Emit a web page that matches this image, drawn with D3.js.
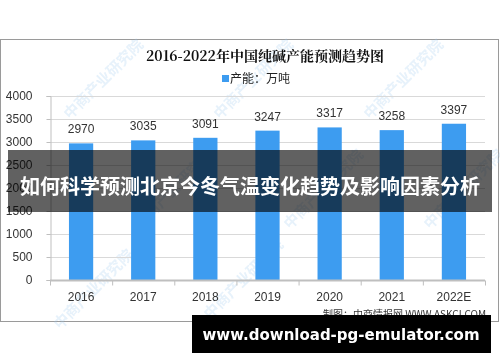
<!DOCTYPE html>
<html>
<head>
<meta charset="utf-8">
<script src="https://cdn.jsdelivr.net/npm/d3@7"></script>
<style>
  body { margin: 0; background: #fff; }
  svg { display: block; }
</style>
</head>
<body>
<div id="chart"></div>
<script>
const years = ["2016", "2017", "2018", "2019", "2020", "2021", "2022E"];
const capacity = [2970, 3035, 3091, 3247, 3317, 3258, 3397];
const yTicks = [0, 500, 1000, 1500, 2000, 2500, 3000, 3500, 4000];

const W = 500, H = 362;
const plot = { left: 50, right: 485, top: 96, bottom: 280 };

const svg = d3.select("#chart").append("svg")
    .attr("width", W)
    .attr("height", H);

// chart frame
svg.append("rect")
    .attr("x", 0.5).attr("y", 39.5)
    .attr("width", 498).attr("height", 282)
    .attr("fill", "#fff")
    .attr("stroke", "#9a9a9a");

// watermarks
const wm = svg.append("g").attr("opacity", 0.25);
[[70, 120], [220, 120], [370, 120], [140, 230], [290, 230], [430, 230], [60, 330], [210, 320]].forEach(p => {
    wm.append("text")
        .attr("transform", `translate(${p[0]},${p[1]}) rotate(-45)`)
        .attr("font-family", "Noto Sans CJK SC")
        .attr("font-size", 15)
        .attr("font-weight", "bold")
        .attr("fill", "#9cc8ee")
        .text("中商产业研究院");
});

svg.append("text")
    .attr("x", 265).attr("y", 61)
    .attr("text-anchor", "middle")
    .attr("font-family", "Noto Serif CJK SC, Noto Sans CJK SC")
    .attr("font-weight", "bold")
    .attr("font-size", 14)
    .attr("fill", "#111")
    .text("2016-2022年中国纯碱产能预测趋势图");

svg.append("rect")
    .attr("x", 222).attr("y", 75)
    .attr("width", 7).attr("height", 7)
    .attr("fill", "#3d9cf0");
svg.append("text")
    .attr("x", 230).attr("y", 83)
    .attr("font-family", "Noto Sans CJK SC")
    .attr("font-size", 12)
    .attr("fill", "#222")
    .text("产能：万吨");

const x = d3.scaleBand()
    .domain(years)
    .range([plot.left, plot.right])
    .paddingInner(0.61)
    .paddingOuter(0.305);

const y = d3.scaleLinear()
    .domain([0, 4000])
    .range([plot.bottom, plot.top]);

// gridlines
svg.append("g")
    .selectAll("line")
    .data(yTicks.slice(1))
    .enter().append("line")
    .attr("x1", plot.left).attr("x2", plot.right)
    .attr("y1", d => Math.round(y(d)) + 0.5)
    .attr("y2", d => Math.round(y(d)) + 0.5)
    .attr("stroke", "#d9d9d9");

const yAxis = svg.append("g")
    .attr("transform", `translate(${plot.left + 0.5},0)`)
    .call(d3.axisLeft(y).tickValues(yTicks).tickFormat(d3.format("d")).tickSize(4).tickPadding(14));
yAxis.select(".domain").attr("stroke", "#bfbfbf");
yAxis.selectAll(".tick line").attr("stroke", "#bfbfbf");
yAxis.selectAll("text")
    .attr("font-family", "Liberation Sans, DejaVu Sans")
    .attr("font-size", 12)
    .attr("fill", "#333");

svg.append("g")
    .selectAll("rect")
    .data(capacity)
    .enter().append("rect")
    .attr("x", (d, i) => x(years[i]))
    .attr("width", x.bandwidth())
    .attr("y", d => y(d))
    .attr("height", d => y(0) - y(d))
    .attr("fill", "#3d9cf0");

svg.append("g")
    .selectAll("text")
    .data(capacity)
    .enter().append("text")
    .attr("x", (d, i) => x(years[i]) + x.bandwidth() / 2)
    .attr("y", d => y(d) - 10)
    .attr("text-anchor", "middle")
    .attr("font-family", "Liberation Sans, DejaVu Sans")
    .attr("font-size", 12)
    .attr("fill", "#333")
    .text(d => d);

const step = x.step();
const xAxis = svg.append("g")
    .attr("transform", `translate(0,${plot.bottom + 0.5})`);
xAxis.append("line")
    .attr("x1", plot.left).attr("x2", plot.right)
    .attr("stroke", "#bfbfbf").attr("stroke-width", 2);
xAxis.selectAll(".tk")
    .data(d3.range(years.length + 1))
    .enter().append("line")
    .attr("x1", i => plot.left + i * step + 0.5)
    .attr("x2", i => plot.left + i * step + 0.5)
    .attr("y1", 0).attr("y2", 5)
    .attr("stroke", "#bfbfbf");
xAxis.selectAll("text")
    .data(years)
    .enter().append("text")
    .attr("x", d => x(d) + x.bandwidth() / 2)
    .attr("y", 20)
    .attr("text-anchor", "middle")
    .attr("font-family", "Liberation Sans, DejaVu Sans")
    .attr("font-size", 12)
    .attr("fill", "#333")
    .text(d => d);

svg.append("text")
    .attr("x", 486).attr("y", 318)
    .attr("text-anchor", "end")
    .attr("font-family", "Noto Sans CJK SC")
    .attr("font-size", 10)
    .attr("fill", "#333")
    .text("制图：中商情报网 WWW.ASKCI.COM");

// overlay banner
svg.append("rect")
    .attr("x", 8).attr("y", 150)
    .attr("width", 484).attr("height", 62)
    .attr("fill", "#000")
    .attr("opacity", 0.62);
svg.append("text")
    .attr("x", 250).attr("y", 194)
    .attr("text-anchor", "middle")
    .attr("font-family", "Noto Sans CJK SC")
    .attr("font-weight", "bold")
    .attr("font-size", 20)
    .attr("fill", "#fff")
    .text("如何科学预测北京今冬气温变化趋势及影响因素分析");

svg.append("rect")
    .attr("x", 192).attr("y", 315)
    .attr("width", 299).attr("height", 38)
    .attr("fill", "#000");
svg.append("text")
    .attr("x", 341).attr("y", 340)
    .attr("text-anchor", "middle")
    .attr("font-family", "DejaVu Sans")
    .attr("font-weight", "bold")
    .attr("font-size", 15)
    .attr("fill", "#fff")
    .text("www.download-pg-emulator.com");
</script>
</body>
</html>
